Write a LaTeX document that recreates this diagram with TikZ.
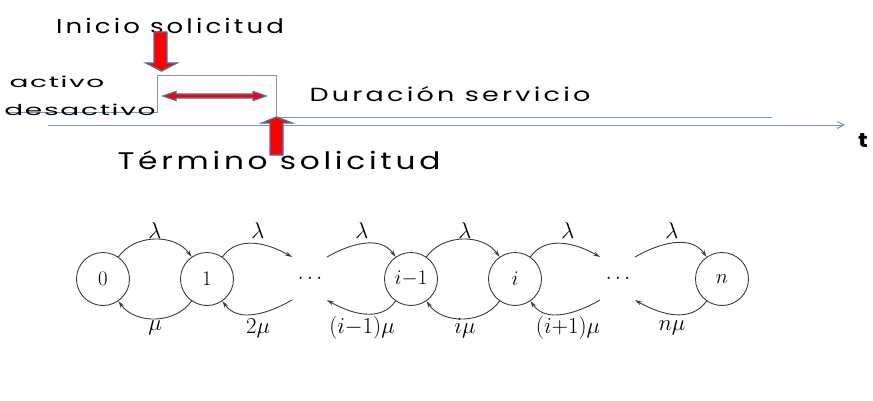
\documentclass[tikz,border=0pt]{standalone}
\usepackage{fontspec}
\usetikzlibrary{arrows.meta}
\newfontfamily\gothic[LetterSpace=12]{Poppins}
\newfontfamily\comic[LetterSpace=6]{Poppins}
\definecolor{pulse}{HTML}{7F96B8}
\definecolor{arrowedge}{HTML}{4F6FA0}
\definecolor{chain}{HTML}{3A3A3A}
\newcommand\ratetxt[1]{\scalebox{1.1}{$#1$}}
\tikzset{
  lbl/.style={inner sep=0pt, text=black},
  redarrow/.style={fill=red, draw=arrowedge, line width=1.4pt, line join=miter},
  state/.style={circle, draw=chain, line width=0.9pt, minimum size=53pt, inner sep=0pt, font=\fontsize{20.74}{24}\selectfont},
  arc/.style={draw=chain, line width=0.9pt, -{Stealth[length=7pt,width=4pt]}},
  rate/.style={inner sep=0pt, font=\fontsize{20.74}{24}\selectfont},
  sig/.style={draw=pulse, line width=1pt}
}
\begin{document}
\begin{tikzpicture}[x=1pt,y=1pt]
\useasboundingbox (0,0) rectangle (873,400);
% ---------- top: signal ----------
\coordinate (p0) at (8,288);
\coordinate (p1) at (157,288);
\coordinate (p2) at (157,325);
\coordinate (p3) at (276,325);
\coordinate (p4) at (276,283);
\coordinate (p5) at (772,283);
\draw[sig] (p0) -- (p1) -- (p2) -- (p3) -- (p4) -- (p5);
\coordinate (ax0) at (48,275);
\coordinate (ax1) at (845,275);
\draw[draw=pulse, line width=1pt, -{Straight Barb[length=7pt,width=7pt]}] (ax0) -- (ax1);
% texts
\node[lbl, font=\gothic\fontsize{20}{24}\selectfont] (ini) at (170,374) {\scalebox{1.3}[1]{Inicio solicitud}};
\node[lbl, font=\gothic\fontsize{24}{28}\selectfont] (ter) at (279,240) {\scalebox{1.3}[1]{Término solicitud}};
\node[lbl, font=\gothic\fontsize{19}{23}\selectfont] (dur) at (450,306) {\scalebox{1.42}[1]{Duración servicio}};
\node[lbl, font=\comic\fontsize{15}{18}\selectfont] (act) at (57,318) {\scalebox{1.86}[1]{activo}};
\node[lbl, font=\comic\fontsize{15}{18}\selectfont] (des) at (80,290) {\scalebox{1.87}[1]{desactivo}};
\node[lbl, font=\gothic\bfseries\fontsize{20}{23}\selectfont] (t) at (863,259) {\scalebox{1.2}[1]{t}};
% red block arrows
\draw[redarrow] (154,368) -- (167,368) -- (167,337) -- (177,337) -- (161.5,329) -- (146,337) -- (154,337) -- cycle;
\draw[redarrow] (270,245) -- (283,245) -- (283,277) -- (292,277) -- (276.5,283) -- (262,277) -- (270,277) -- cycle;
\draw[fill=red, draw=arrowedge, line width=1.2pt]
  (163,304) -- (176,308.5) -- (176,306) -- (253,306) -- (253,308.5) -- (266,304)
  -- (253,299.5) -- (253,302) -- (176,302) -- (176,299.5) -- cycle;
% ---------- bottom: birth-death chain ----------
\node[state] (s0) at (103,121) {$0$};
\node[state] (s1) at (207,121) {$1$};
\node[state] (sa) at (411,121) {$i{-}1$};
\node[state] (sb) at (515,121) {$i$};
\node[state] (sn) at (722,121) {$n$};
\node[rate] (d1) at (310,121) {$\cdots$};
\node[rate] (d2) at (618,121) {$\cdots$};
\coordinate (u1a) at (292,143);
\coordinate (u1b) at (327,143);
\coordinate (l1a) at (292,100);
\coordinate (l1b) at (327,100);
\coordinate (u2a) at (600,143);
\coordinate (u2b) at (635,143);
\coordinate (l2a) at (600,100);
\coordinate (l2b) at (635,100);
% upper arcs
\draw[arc] (s0) to[out=55,in=125] (s1);
\draw[arc] (s1) to[out=55,in=150] (u1a);
\draw[arc] (u1b) to[out=30,in=125] (sa);
\draw[arc] (sa) to[out=55,in=125] (sb);
\draw[arc] (sb) to[out=55,in=150] (u2a);
\draw[arc] (u2b) to[out=30,in=125] (sn);
% lower arcs
\draw[arc] (s1) to[out=-125,in=-55] (s0);
\draw[arc] (l1a) to[out=-150,in=-55] (s1);
\draw[arc] (sa) to[out=-125,in=-30] (l1b);
\draw[arc] (sb) to[out=-125,in=-55] (sa);
\draw[arc] (l2a) to[out=-150,in=-55] (sb);
\draw[arc] (sn) to[out=-125,in=-30] (l2b);
% rate labels
\foreach \x/\nm in {155/a,258/b,362/c,465/d,568/e,672/f}{
  \node[rate] (lam\nm) at (\x,169) {\ratetxt{\lambda}};
}
\node[rate] (mu1) at (155,72) {\ratetxt{\mu}};
\node[rate] (mu2) at (258,72) {\ratetxt{2\mu}};
\node[rate] (mu3) at (362,72) {\ratetxt{(i{-}1)\mu}};
\node[rate] (mu4) at (465,72) {\ratetxt{i\mu}};
\node[rate] (mu5) at (568,72) {\ratetxt{(i{+}1)\mu}};
\node[rate] (mu6) at (672,72) {\ratetxt{n\mu}};
\end{tikzpicture}
\end{document}
